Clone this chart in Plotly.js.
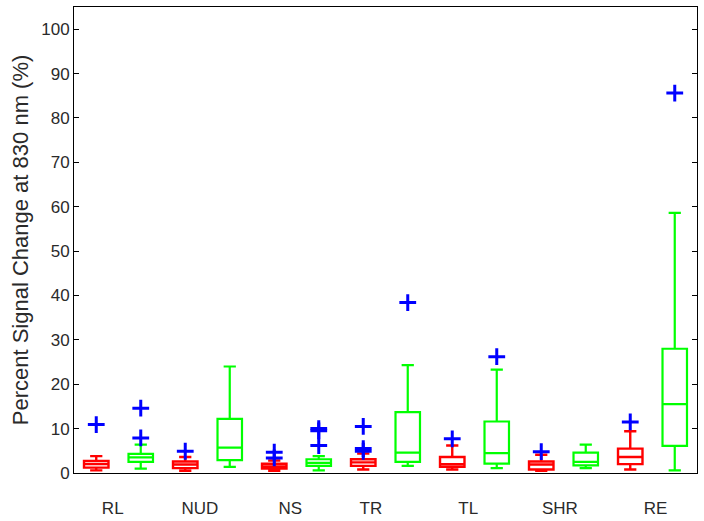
<!DOCTYPE html>
<html>
<head>
<meta charset="utf-8">
<script src="https://cdn.plot.ly/plotly-3.0.1.min.js"></script>
<style>html,body{margin:0;padding:0;background:#fff;}#chart{width:704px;height:521px;}</style>
</head>
<body>
<div id="chart"></div>
<script>
// Categories
var categories = ["RL", "NUD", "NS", "TR", "TL", "SHR", "RE"];

// Red (first condition) box statistics per category
var redLower  = [0.6, 0.5, 0.5, 0.8, 0.8, 0.5, 0.8];
var redQ1     = [1.2, 1.1, 1.0, 1.6, 1.4, 0.8, 2.0];
var redMedian = [2.0, 1.9, 1.5, 2.4, 2.0, 1.9, 3.6];
var redQ3     = [2.7, 2.6, 2.1, 3.1, 3.6, 2.6, 5.5];
var redUpper  = [3.8, 3.6, 2.8, 4.4, 6.2, 4.1, 9.4];
// Red outliers: [category index, value]
var redOutCat = [0, 1, 2, 2, 3, 3, 3, 4, 5, 6];
var redOutVal = [10.9, 4.9, 4.7, 3.4, 10.5, 5.5, 4.9, 7.7, 4.8, 11.5];

// Green (second condition) box statistics per category
var greenLower  = [1.0, 1.4, 0.6, 1.6, 1.1, 1.1, 0.6];
var greenQ1     = [2.5, 2.9, 1.6, 2.5, 2.1, 1.7, 6.1];
var greenMedian = [3.5, 5.7, 2.3, 4.6, 4.5, 2.5, 15.5];
var greenQ3     = [4.3, 12.2, 3.1, 13.7, 11.6, 4.6, 28.0];
var greenUpper  = [6.4, 24.0, 3.8, 24.3, 23.3, 6.4, 58.6];
// Green outliers
var greenOutCat = [0, 0, 2, 2, 2, 3, 4, 6];
var greenOutVal = [14.6, 7.9, 10.0, 9.5, 6.2, 38.4, 26.2, 85.6];

// Y tick values
var yTicks = [0, 10, 20, 30, 40, 50, 60, 70, 80, 90, 100];

var redX = categories.map(function(c, i){ return 2*i + 1; });
var greenX = categories.map(function(c, i){ return 2*i + 2; });

var outX = redOutCat.map(function(c){ return 2*c + 1; })
  .concat(greenOutCat.map(function(c){ return 2*c + 2; }));
var outY = redOutVal.concat(greenOutVal);

var boxCommon = {
  type: 'box',
  boxpoints: false,
  width: 0.55,
  whiskerwidth: 0.5,
  fillcolor: 'rgba(0,0,0,0)',
  hoverinfo: 'skip',
  showlegend: false
};

var traces = [
  Object.assign({}, boxCommon, {
    x: redX, q1: redQ1, median: redMedian, q3: redQ3,
    lowerfence: redLower, upperfence: redUpper,
    line: {color: '#ff0000', width: 2.4}
  }),
  Object.assign({}, boxCommon, {
    x: greenX, q1: greenQ1, median: greenMedian, q3: greenQ3,
    lowerfence: greenLower, upperfence: greenUpper,
    line: {color: '#00ff00', width: 2.2}
  }),
  {
    type: 'scatter', mode: 'markers', x: outX, y: outY,
    marker: {symbol: 'cross-thin', size: 12, color: '#0000ff', line: {color: '#0000ff', width: 3}},
    showlegend: false, hoverinfo: 'skip'
  }
];

// Category label offsets within each pair (label placement as in the original)
var labelShift = [-0.13, -0.17, -0.14, -0.33, -0.14, -0.08, 0.07];
var labelPos = categories.map(function(c, i){ return 2*i + 1.5 + labelShift[i]; });

var layout = {
  width: 704, height: 521,
  margin: {l: 74, r: 7, t: 7, b: 48},
  paper_bgcolor: '#ffffff', plot_bgcolor: '#ffffff',
  font: {family: 'Liberation Sans, Arial, sans-serif', color: '#2a2a2a', size: 17},
  boxmode: 'overlay',
  showlegend: false,
  xaxis: {
    range: [0.5, 14.5],
    tickvals: labelPos, ticktext: categories,
    ticks: '', showgrid: false, zeroline: false,
    showline: true, linecolor: '#000', linewidth: 1, mirror: true,
    ticklabelstandoff: 20,
    tickfont: {size: 17, color: '#2a2a2a'}
  },
  yaxis: {
    range: [0, 105],
    tickvals: yTicks,
    ticks: 'inside', ticklen: 5, tickcolor: '#000', tickwidth: 1,
    showgrid: false, zeroline: false,
    showline: true, linecolor: '#000', linewidth: 1, mirror: 'ticks',
    tickfont: {size: 17, color: '#2a2a2a'},
    title: {text: 'Percent Signal Change at 830 nm (%)', font: {size: 22, color: '#2a2a2a'}, standoff: 6}
  }
};

Plotly.newPlot('chart', traces, layout, {displayModeBar: false, staticPlot: true});
</script>
</body>
</html>
